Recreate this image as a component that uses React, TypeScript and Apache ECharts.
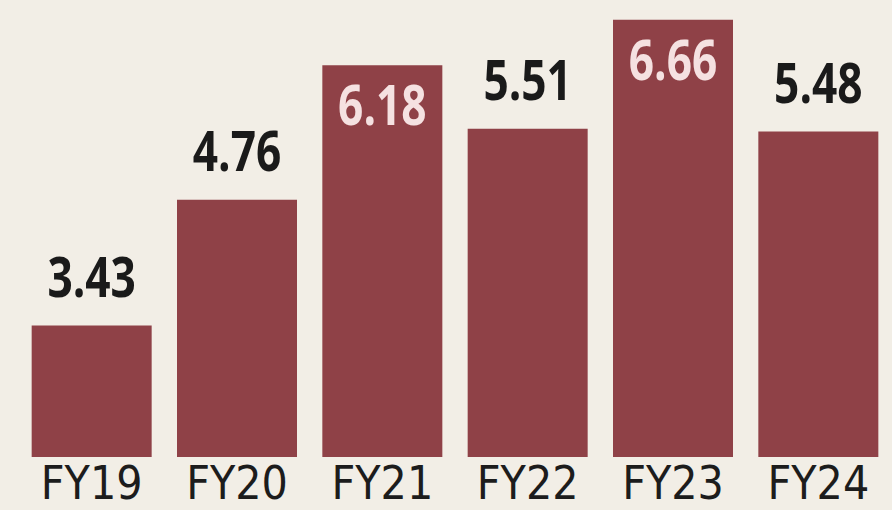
import React, { useEffect, useRef } from "react";
import * as echarts from "echarts";

const categories = ["FY19", "FY20", "FY21", "FY22", "FY23", "FY24"];
const values = [3.43, 4.76, 6.18, 5.51, 6.66, 5.48];
const insideLabelYears = ["FY21", "FY23"];

const AXIS_FONT = "'DejaVu Sans Condensed', 'DejaVu Sans', sans-serif";
const VALUE_FONT = "'Open Sans', 'DejaVu Sans', sans-serif";

export default function App() {
  const ref = useRef<HTMLDivElement>(null);
  useEffect(() => {
    if (!ref.current) return;
    const chart = echarts.init(ref.current, undefined, { renderer: "svg" });
    chart.setOption({
      animation: false,
      backgroundColor: "#f2eee6",
      grid: { left: 19, right: 1, top: 0, bottom: 53 },
      xAxis: {
        type: "category",
        data: categories,
        axisLine: { show: false },
        axisTick: { show: false },
        axisLabel: {
          color: "#1c1c1c",
          fontFamily: AXIS_FONT,
          fontSize: 46,
          lineHeight: 46,
          margin: 3,
        },
      },
      yAxis: {
        type: "value",
        min: 2.04,
        max: 6.87,
        show: false,
        splitLine: { show: false },
      },
      series: [
        {
          type: "bar",
          data: values,
          barWidth: 120,
          itemStyle: { color: "#8f4147" },
        },
        {
          type: "custom",
          data: values.map((v, i) => [i, v]),
          z: 10,
          renderItem: (params: any, api: any) => {
            const i = api.value(0);
            const v = api.value(1);
            const pt = api.coord([i, v]);
            const inside = insideLabelYears.includes(categories[i]);
            return {
              type: "text",
              x: pt[0],
              y: inside ? pt[1] + 38 : pt[1] - 50,
              scaleX: 0.79,
              style: {
                text: v.toFixed(2),
                fontFamily: VALUE_FONT,
                fontWeight: "bold",
                fontSize: 56,
                fill: inside ? "#f5e1e1" : "#1a1a1a",
                align: "center",
                verticalAlign: "middle",
              },
            };
          },
        },
      ],
    });
    return () => chart.dispose();
  }, []);
  return (
    <div
      ref={ref}
      style={{ position: "fixed", left: 0, top: 0, width: 892, height: 510 }}
    />
  );
}
